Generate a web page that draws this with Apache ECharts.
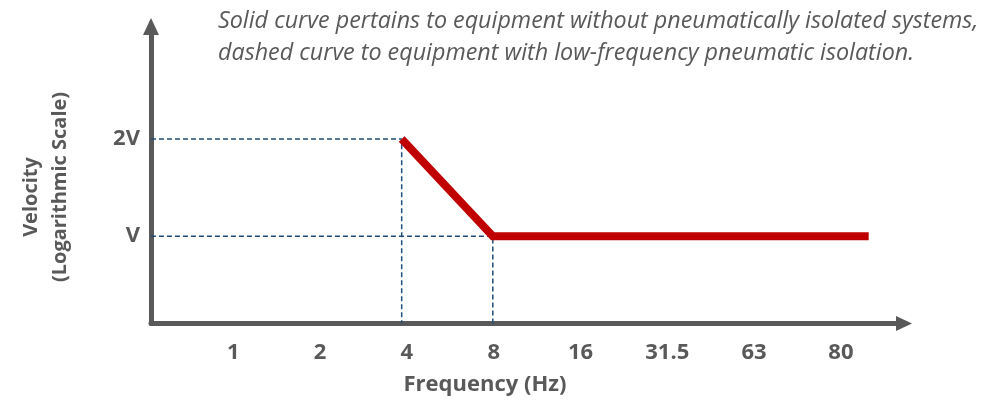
<!DOCTYPE html>
<html>
<head>
<meta charset="utf-8">
<script src="https://cdn.jsdelivr.net/npm/echarts@6/dist/echarts.min.js"></script>
<style>html,body{margin:0;padding:0;background:#fff}#c{width:984px;height:407px}</style>
</head>
<body>
<div id="c"></div>
<script>
// ---- data ----
const freqLabels = ['1', '2', '4', '8', '16', '31.5', '63', '80'];
const velocityLabels = ['V', '2V'];
const velocityValues = [1, 2];
// solid curve: positions along the frequency label index, velocity in units of V
const solidX = [1.94, 2.99, 7.32];
const solidY = [2, 1, 1];
const noteText = 'Solid curve pertains to equipment without pneumatically isolated systems,\ndashed curve to equipment with low-frequency pneumatic isolation.';
const xName = 'Frequency (Hz)';
const yNameLines = ['Velocity', '(Logarithmic Scale)'];

const X_MIN = -0.948, X_MAX = 7.727, Y_MIN = 0.103, Y_MAX = 3.155;
const FONT = "'Open Sans', 'DejaVu Sans', sans-serif";
const GREY = '#595959';

const solid = solidX.map((x, i) => [x, solidY[i]]);
// dashed guide lines from the curve's two break points to the axes
const guides = [];
[0, 1].forEach(i => {
  guides.push([[X_MIN, solidY[i]], [solidX[i], solidY[i]], [solidX[i], Y_MIN]]);
});

const chart = echarts.init(document.getElementById('c'), null, {renderer: 'canvas'});
chart.setOption({
  animation: false,
  backgroundColor: '#fff',
  title: {
    text: noteText,
    left: 218, top: 5, padding: 0,
    textStyle: {fontFamily: FONT, fontStyle: 'italic', fontWeight: 'normal', fontSize: 23.3, color: GREY, lineHeight: 32}
  },
  grid: {left: 151, right: 80, top: 26.5, bottom: 83.5, containLabel: false},
  xAxis: {
    type: 'value', min: X_MIN, max: X_MAX,
    splitLine: {show: false}, axisTick: {show: false},
    axisLine: {show: true, onZero: false, lineStyle: {color: GREY, width: 5}, symbol: ['none', 'triangle'], symbolSize: [15, 16]},
    axisLabel: {
      customValues: freqLabels.map((_, i) => i),
      formatter: v => freqLabels[Math.round(v)],
      margin: 18, fontFamily: FONT, fontWeight: 'bold', fontSize: 22, color: GREY
    }
  },
  yAxis: {
    type: 'value', min: Y_MIN, max: Y_MAX,
    splitLine: {show: false}, axisTick: {show: false},
    axisLine: {show: true, onZero: false, lineStyle: {color: GREY, width: 5}, symbol: ['none', 'triangle'], symbolSize: [16, 17]},
    axisLabel: {
      customValues: velocityValues,
      formatter: v => velocityLabels[velocityValues.indexOf(Math.round(v))],
      margin: 11, fontFamily: FONT, fontWeight: 'bold', fontSize: 22, color: GREY
    }
  },
  graphic: [
    {type: 'text', x: 485, y: 385, style: {text: xName, align: 'center', verticalAlign: 'middle', font: "bold 22px " + FONT, fill: GREY}},
    {type: 'text', x: 31, y: 197, rotation: Math.PI / 2, style: {text: yNameLines[0], align: 'center', verticalAlign: 'middle', font: "bold 20px " + FONT, fill: GREY}},
    {type: 'text', x: 60, y: 187, rotation: Math.PI / 2, style: {text: yNameLines[1], align: 'center', verticalAlign: 'middle', font: "bold 20px " + FONT, fill: GREY}}
  ],
  series: guides.map(g => ({
    type: 'line', data: g, symbol: 'none', silent: true, z: 1,
    lineStyle: {color: '#1F4E79', width: 1.5, type: [5, 3]}
  })).concat([{
    type: 'line', data: solid, symbol: 'none', silent: true, z: 3,
    lineStyle: {color: '#C00000', width: 8, cap: 'butt', join: 'miter'}
  }])
});
</script>
</body>
</html>
